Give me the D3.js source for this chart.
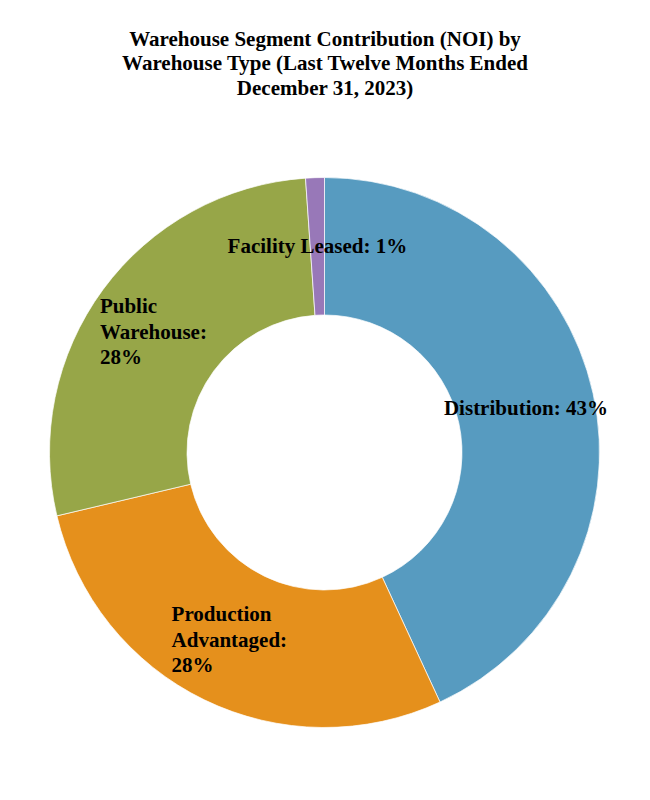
<!DOCTYPE html>
<html>
<head>
<meta charset="utf-8">
<script src="https://cdn.jsdelivr.net/npm/d3@7"></script>
<style>
  body { margin: 0; background: #fff; }
  svg { display: block; }
  text { font-family: "Liberation Serif", "Times New Roman", serif; font-weight: bold; fill: #000; }
</style>
</head>
<body>
<div id="chart"></div>
<script>
// data (share of NOI, %)
const categories = ['Distribution', 'Production Advantaged', 'Public Warehouse', 'Facility Leased'];
const values = [43.1, 28.2, 27.6, 1.1];
const colors = ['#579bc0', '#e5901c', '#97a648', '#9878b8'];
// how each label wraps in the original
const labelLines = [
  ['Distribution: 43%'],
  ['Production', 'Advantaged:', '28%'],
  ['Public', 'Warehouse:', '28%'],
  ['Facility Leased: 1%']
];
const titleLines = [
  'Warehouse Segment Contribution (NOI) by',
  'Warehouse Type (Last Twelve Months Ended',
  'December 31, 2023)'
];

const width = 650, height = 800;
const cx = 324.5, cy = 452.5;
const outerR = 275, innerR = 137.5;

const svg = d3.select('#chart').append('svg')
  .attr('width', width)
  .attr('height', height);

svg.append('g')
  .selectAll('text')
  .data(titleLines)
  .join('text')
  .attr('x', width / 2)
  .attr('y', (d, i) => 45.5 + i * 24.5)
  .attr('text-anchor', 'middle')
  .style('font-size', '21px')
  .text(d => d);

const data = categories.map((c, i) => ({ name: c, value: values[i], color: colors[i], lines: labelLines[i] }));

const pie = d3.pie()
  .sort(null)
  .value(d => d.value);

const arc = d3.arc()
  .innerRadius(innerR)
  .outerRadius(outerR);

const g = svg.append('g')
  .attr('transform', 'translate(' + cx + ',' + cy + ')');

const arcs = pie(data);

g.selectAll('path')
  .data(arcs)
  .join('path')
  .attr('d', arc)
  .attr('fill', d => d.data.color)
  .attr('stroke', '#fff')
  .attr('stroke-width', 0.7);

const lineH = 25.5;

const labels = g.selectAll('g.label')
  .data(arcs)
  .join('g')
  .attr('class', 'label');

labels.each(function(d) {
  const el = d3.select(this);
  const [px, py] = arc.centroid(d);
  const n = d.data.lines.length;
  const t = el.append('text')
    .style('font-size', '21px');
  t.selectAll('tspan')
    .data(d.data.lines)
    .join('tspan')
    .attr('y', (l, i) => py - (n - 1) * lineH / 2 + 7 + (n > 1 ? 1.5 : 0) + i * lineH)
    .text(l => l);
  // label box centred on the centroid, lines left aligned; wrapped boxes are a bit wider
  const w = d3.max(t.selectAll('tspan').nodes(), s => s.getComputedTextLength()) + (n > 1 ? 10 : 0);
  t.selectAll('tspan').attr('x', px - w / 2);
});
</script>
</body>
</html>
